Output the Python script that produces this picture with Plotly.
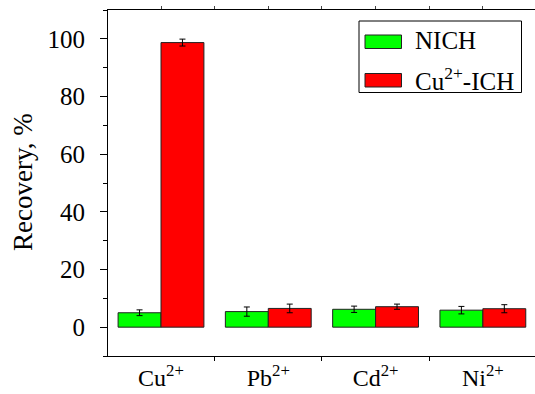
import plotly.graph_objects as go

categories = ["Cu<sup>2+</sup>", "Pb<sup>2+</sup>", "Cd<sup>2+</sup>", "Ni<sup>2+</sup>"]
series_names = ["NICH", "Cu<sup>2+</sup>-ICH"]
nich = [5.0, 5.4, 6.2, 5.9]
nich_err = [1.0, 1.6, 1.1, 1.3]
ich = [98.7, 6.5, 7.1, 6.4]
ich_err = [1.2, 1.5, 0.9, 1.4]
y_ticks = [0, 20, 40, 60, 80, 100]

x = list(range(len(categories)))
font = "Liberation Serif"
colors = ["#00FF00", "#FF0000"]

W, H = 535, 394
ML, MR, MT, MB = 108, 0, 10, 38


def px(v):
    return (v - ML) / (W - ML - MR)


def py(v):
    return (H - MB - v) / (H - MT - MB)


fig = go.Figure()
fig.add_trace(go.Bar(
    x=x, y=nich, name=series_names[0], width=0.4, offset=-0.4,
    marker=dict(color=colors[0], line=dict(color="#222", width=1)),
    error_y=dict(type="data", array=nich_err, color="black", thickness=1, width=3),
    showlegend=False,
))
fig.add_trace(go.Bar(
    x=x, y=ich, name=series_names[1], width=0.4, offset=0,
    marker=dict(color=colors[1], line=dict(color="#222", width=1)),
    error_y=dict(type="data", array=ich_err, color="black", thickness=1, width=3),
    showlegend=False,
))
fig.add_trace(go.Scatter(x=[0], y=[0], xaxis="x2", mode="markers",
                         marker=dict(opacity=0), showlegend=False, hoverinfo="skip"))

# custom legend (wide swatches like the reference)
shapes = [dict(type="rect", xref="paper", yref="paper",
               x0=px(359), x1=px(521.5), y0=py(92.5), y1=py(21),
               line=dict(color="black", width=1), fillcolor="white", layer="above")]
annotations = []
sw_y = [(35, 48.5), (73.5, 87)]
txt_y = [40.5, 79]
for i in range(2):
    shapes.append(dict(type="rect", xref="paper", yref="paper",
                       x0=px(365), x1=px(401.5), y0=py(sw_y[i][1]), y1=py(sw_y[i][0]),
                       line=dict(color="#222", width=1), fillcolor=colors[i], layer="above"))
    annotations.append(dict(text=series_names[i], xref="paper", yref="paper",
                            x=px(413), y=py(txt_y[i]), xanchor="left", yanchor="middle",
                            showarrow=False, font=dict(family=font, size=25, color="black")))

# y-axis title as annotation for precise placement
annotations.append(dict(text="Recovery, %", xref="paper", yref="paper",
                        x=px(23), y=py(182), xanchor="center", yanchor="middle",
                        textangle=-90, showarrow=False,
                        font=dict(family=font, size=27, color="black")))

fig.update_layout(
    width=W, height=H,
    margin=dict(l=ML, r=MR, t=MT, b=MB, autoexpand=False),
    plot_bgcolor="white", paper_bgcolor="white",
    font=dict(family=font, size=25, color="black"),
    barmode="overlay",
    showlegend=False,
    shapes=shapes,
    annotations=annotations,
    xaxis=dict(
        range=[-0.494, 3.486], tickvals=x, ticktext=categories,
        showline=True, linecolor="black", linewidth=1, mirror=True,
        ticks="", showgrid=False, zeroline=False, automargin=False,
        minor=dict(tickvals=[0.5, 1.5, 2.5], ticks="outside", ticklen=4,
                   tickcolor="black"),
        tickfont=dict(family=font, size=24),
        ticklabelstandoff=0,
    ),
    xaxis2=dict(
        overlaying="x", side="top", range=[-0.494, 3.486], automargin=False,
        tickvals=[0, 0.5, 1, 1.5, 2, 2.5, 3], ticks="outside", ticklen=3,
        showticklabels=False, showgrid=False, zeroline=False, showline=False,
    ),
    yaxis=dict(
        range=[-10, 110], tickvals=y_ticks, automargin=False,
        showline=True, linecolor="black", linewidth=1,
        ticks="outside", ticklen=7, tickcolor="black",
        showgrid=False, zeroline=False,
        minor=dict(tickvals=[-10, 10, 30, 50, 70, 90, 110], ticks="outside",
                   ticklen=4, tickcolor="black"),
        tickfont=dict(family=font, size=25),
        ticklabelstandoff=10,
    ),
)

fig.write_html("out.html")
